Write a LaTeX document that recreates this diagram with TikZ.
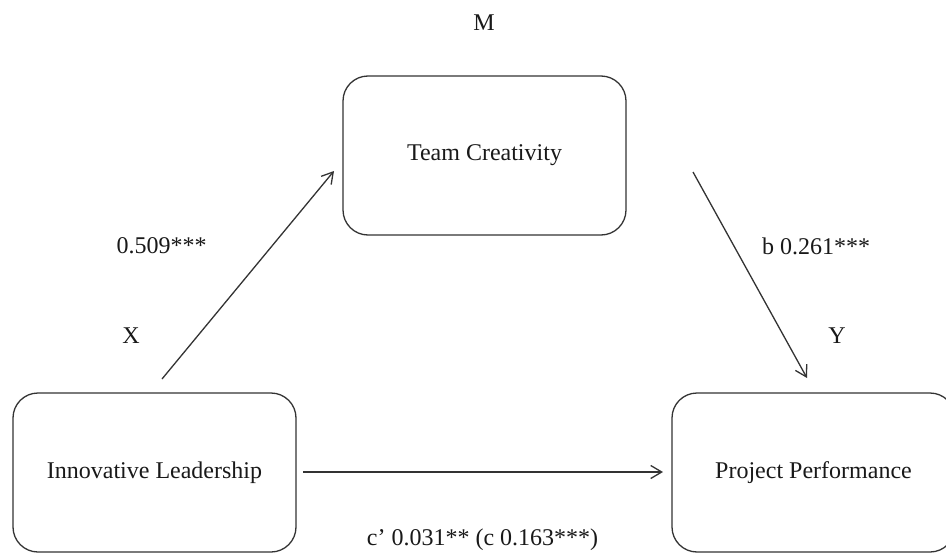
\documentclass[tikz,border=0pt]{standalone}
\usepackage{fontspec}
\setmainfont{Liberation Serif}
\usetikzlibrary{arrows.meta}
\begin{document}
\begin{tikzpicture}[x=1pt,y=-1pt,
  every node/.style={font=\fontsize{24}{28}\selectfont, text=black!90},
  varbox/.style={draw=black!80, line width=1.3pt, rounded corners=25pt,
    minimum width=283pt, minimum height=159pt, inner sep=0pt},
  conn/.style={draw=black!80, line width=1.3pt,
    -{Straight Barb[length=11pt,width=13pt]}},
  lbl/.style={inner sep=0pt}]
\useasboundingbox (0,0) rectangle (946,554);
\node[varbox] (TC) at (484.5,155.5) {\raisebox{-2pt}{Team Creativity}};
\node[varbox] (IL) at (154.5,472.5) {\raisebox{-2pt}{Innovative Leadership}};
\node[varbox] (PP) at (813.5,472.5) {\raisebox{-2pt}{Project Performance}};
\node[lbl] (M) at (484,23) {M};
\node[lbl] (X) at (131,336) {X};
\node[lbl] (Y) at (837,336) {Y};
\node[lbl] (a) at (161.5,246) {0.509***};
\node[lbl] (b) at (816,246) {b 0.261***};
\node[lbl] (c) at (482.5,540) {c’ 0.031** (c 0.163***)};
\coordinate (s1) at (162,379);
\coordinate (e1) at (334,171);
\coordinate (s2) at (693,172);
\coordinate (e2) at (807,378);
\coordinate (s3) at (303,472);
\coordinate (e3) at (663,472);
\draw[conn] (s1) -- (e1);
\draw[conn] (s2) -- (e2);
\draw[conn] (s3) -- (e3);
\end{tikzpicture}
\end{document}
